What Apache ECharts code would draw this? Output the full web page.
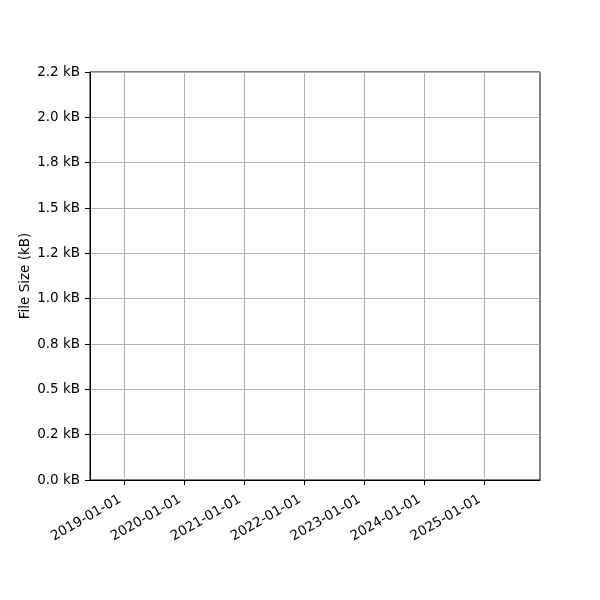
<!DOCTYPE html>
<html>
<head>
<meta charset="utf-8">
<script src="https://cdn.jsdelivr.net/npm/echarts@6/dist/echarts.min.js"></script>
<style>html,body{margin:0;padding:0;background:#fff}#c{width:600px;height:600px}</style>
</head>
<body>
<div id="c"></div>
<script>
// Data (the reference chart is empty: no recorded points)
const dates = [];
const fileSizesKB = [];
const xTickDates = ['2019-01-01','2020-01-01','2021-01-01','2022-01-01','2023-01-01','2024-01-01','2025-01-01'];
const yTickValues = [0, 0.25, 0.5, 0.75, 1.0, 1.25, 1.5, 1.75, 2.0, 2.25];
const yTickLabels = ['0.0 kB','0.2 kB','0.5 kB','0.8 kB','1.0 kB','1.2 kB','1.5 kB','1.8 kB','2.0 kB','2.2 kB'];
const xRange = ['2018-06-05', '2025-12-08'];

const toMs = s => Date.parse(s + 'T00:00:00Z');
const xTicksMs = xTickDates.map(toMs);
const fmtDate = v => { const d = new Date(v); return d.toISOString().slice(0,10); };

const chart = echarts.init(document.getElementById('c'), null, {renderer:'canvas'});
const font = 'DejaVu Sans';
chart.setOption({
  animation: false,
  backgroundColor: '#fff',
  grid: {left: 90, right: 60, top: 72, bottom: 120, show: true, borderColor: '#000', borderWidth: 1, backgroundColor: 'transparent'},
  xAxis: {
    type: 'value',
    min: toMs(xRange[0]), max: toMs(xRange[1]),
    axisLine: {show: true, onZero: false, lineStyle: {color: '#000', width: 1}},
    axisTick: {show: true, length: 5, lineStyle: {color: '#000', width: 1}, customValues: xTicksMs},
    axisLabel: {customValues: xTicksMs, formatter: v => fmtDate(v), rotate: 30, margin: 16, padding: [0, 5, 0, 0], color: '#000', fontFamily: font, fontSize: 13.5},
    splitLine: {show: true, lineStyle: {color: '#b0b0b0', width: 1}}
  },
  yAxis: {
    type: 'value',
    min: 0, max: 2.25, interval: 0.25,
    name: 'File Size (kB)', nameLocation: 'middle', nameGap: 58, nameMoveOverlap: false,
    nameTextStyle: {color: '#000', fontFamily: font, fontSize: 13.5},
    axisLine: {show: true, lineStyle: {color: '#000', width: 1}},
    axisTick: {show: true, length: 5, lineStyle: {color: '#000', width: 1}},
    axisLabel: {
      margin: 10, color: '#000', fontFamily: font, fontSize: 13.5,
      formatter: v => { const i = yTickValues.findIndex(t => Math.abs(t - v) < 1e-9); return i >= 0 ? yTickLabels[i] : ''; }
    },
    splitLine: {show: true, lineStyle: {color: '#b0b0b0', width: 1}}
  },
  series: [{type: 'line', data: dates.map((d, i) => [toMs(d), fileSizesKB[i]]), showSymbol: false}]
});
</script>
</body>
</html>
